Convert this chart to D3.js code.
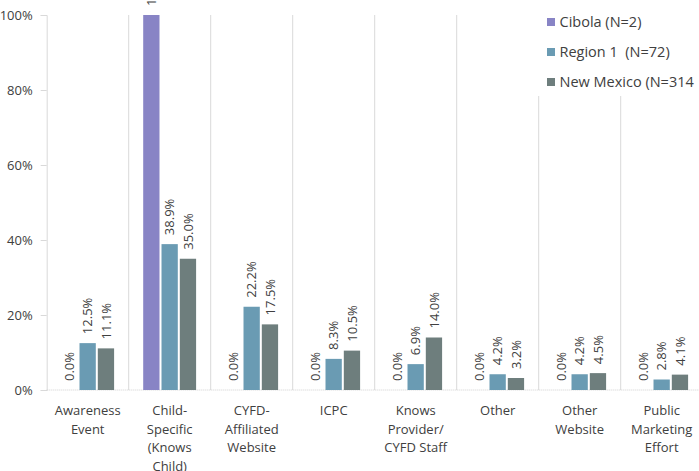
<!DOCTYPE html>
<html>
<head>
<meta charset="utf-8">
<script src="https://cdn.jsdelivr.net/npm/d3@7"></script>
<style>
  html, body { margin: 0; padding: 0; background: #fff; }
  svg { display: block; }
  text { font-family: "Open Sans", sans-serif; fill: #404040; }
</style>
</head>
<body>
<svg id="chart" width="699" height="471"></svg>
<script>
const categories = [
  ["Awareness", "Event"],
  ["Child-", "Specific", "(Knows", "Child)"],
  ["CYFD-", "Affiliated", "Website"],
  ["ICPC"],
  ["Knows", "Provider/", "CYFD Staff"],
  ["Other"],
  ["Other", "Website"],
  ["Public", "Marketing", "Effort"]
];
const seriesNames = ["Cibola (N=2)", "Region 1  (N=72)", "New Mexico (N=314"];
const cibola    = [0.0, 100.0, 0.0, 0.0, 0.0, 0.0, 0.0, 0.0];
const region1   = [12.5, 38.9, 22.2, 8.3, 6.9, 4.2, 4.2, 2.8];
const newMexico = [11.1, 35.0, 17.5, 10.5, 14.0, 3.2, 4.5, 4.1];
const yTicks = [0, 20, 40, 60, 80, 100];
const colors = ["#8884C5", "#6A9BB3", "#6E7E7D"];

const seriesValues = [cibola, region1, newMexico];
const svg = d3.select("#chart");

const left = 46.7, step = 82, zeroY = 390, topY = 15;
const catKeys = categories.map((c, i) => i);
const x = d3.scaleBand().domain(catKeys).range([left, left + step * categories.length]).padding(0);
const x1 = d3.scaleBand().domain(d3.range(seriesNames.length)).range([14.5, 67.4]).paddingInner(0.11).paddingOuter(0);
const y = d3.scaleLinear().domain([0, 100]).range([zeroY, topY]);

// vertical separators (gridlines)
svg.append("g").selectAll("line")
  .data(catKeys.slice(1).concat([categories.length]))
  .join("line")
  .attr("x1", d => d < categories.length ? x(d) : x(d - 1) + x.bandwidth())
  .attr("x2", d => d < categories.length ? x(d) : x(d - 1) + x.bandwidth())
  .attr("y1", topY).attr("y2", zeroY)
  .attr("stroke", "#d9d9d9").attr("stroke-width", 1);

// y axis
const yAxis = d3.axisLeft(y).tickValues(yTicks).tickFormat(d => d + "%").tickSize(6).tickPadding(8);
const gy = svg.append("g").attr("transform", `translate(${left},0)`).call(yAxis);
gy.select(".domain").attr("stroke", "#d9d9d9");
gy.selectAll(".tick line").attr("stroke", "#d9d9d9");
gy.selectAll(".tick text").attr("font-family", "Open Sans, sans-serif").attr("font-size", 13).attr("fill", "#404040");

// x axis baseline
svg.append("line")
  .attr("x1", left).attr("x2", 699).attr("y1", zeroY).attr("y2", zeroY)
  .attr("stroke", "#cfcfcf").attr("stroke-width", 1).attr("stroke-dasharray", "1,1");

// bars
const flat = [];
seriesValues.forEach((vals, s) => vals.forEach((v, c) => flat.push({ s, c, v })));
svg.append("g").selectAll("rect")
  .data(flat)
  .join("rect")
  .attr("x", d => x(d.c) + x1(d.s))
  .attr("width", x1.bandwidth())
  .attr("y", d => y(d.v))
  .attr("height", d => zeroY - y(d.v))
  .attr("fill", d => colors[d.s]);

// value labels (rotated)
svg.append("g").selectAll("text")
  .data(flat)
  .join("text")
  .attr("transform", d => `translate(${x(d.c) + x1(d.s) + x1.bandwidth() / 2},${y(d.v) - 9}) rotate(-90)`)
  .attr("dy", "0.36em")
  .attr("text-anchor", "start")
  .attr("font-size", 13)
  .text(d => d.v.toFixed(1) + "%");

// category labels
const cat = svg.append("g").selectAll("text")
  .data(categories)
  .join("text")
  .attr("text-anchor", "middle")
  .attr("font-size", 13)
  .attr("x", (d, i) => x(i) + x.bandwidth() / 2)
  .attr("y", 415);
cat.selectAll("tspan")
  .data((d, i) => d.map(line => ({ line, i })))
  .join("tspan")
  .attr("x", d => x(d.i) + x.bandwidth() / 2)
  .attr("dy", (d, j) => j === 0 ? 0 : 18.6)
  .text(d => d.line);

// legend
const lg = svg.append("g");
lg.append("rect").attr("x", 530).attr("y", 0).attr("width", 169).attr("height", 96).attr("fill", "#fff");
const items = lg.selectAll("g.item").data(seriesNames).join("g").attr("class", "item")
  .attr("transform", (d, i) => `translate(547,${22 + i * 30})`);
items.append("rect").attr("x", 0).attr("y", -4).attr("width", 8).attr("height", 8).attr("fill", (d, i) => colors[i]);
items.append("text").attr("x", 12.5).attr("dy", "0.35em").attr("font-size", 14.5)
  .style("white-space", "pre").text(d => d);
</script>
</body>
</html>
